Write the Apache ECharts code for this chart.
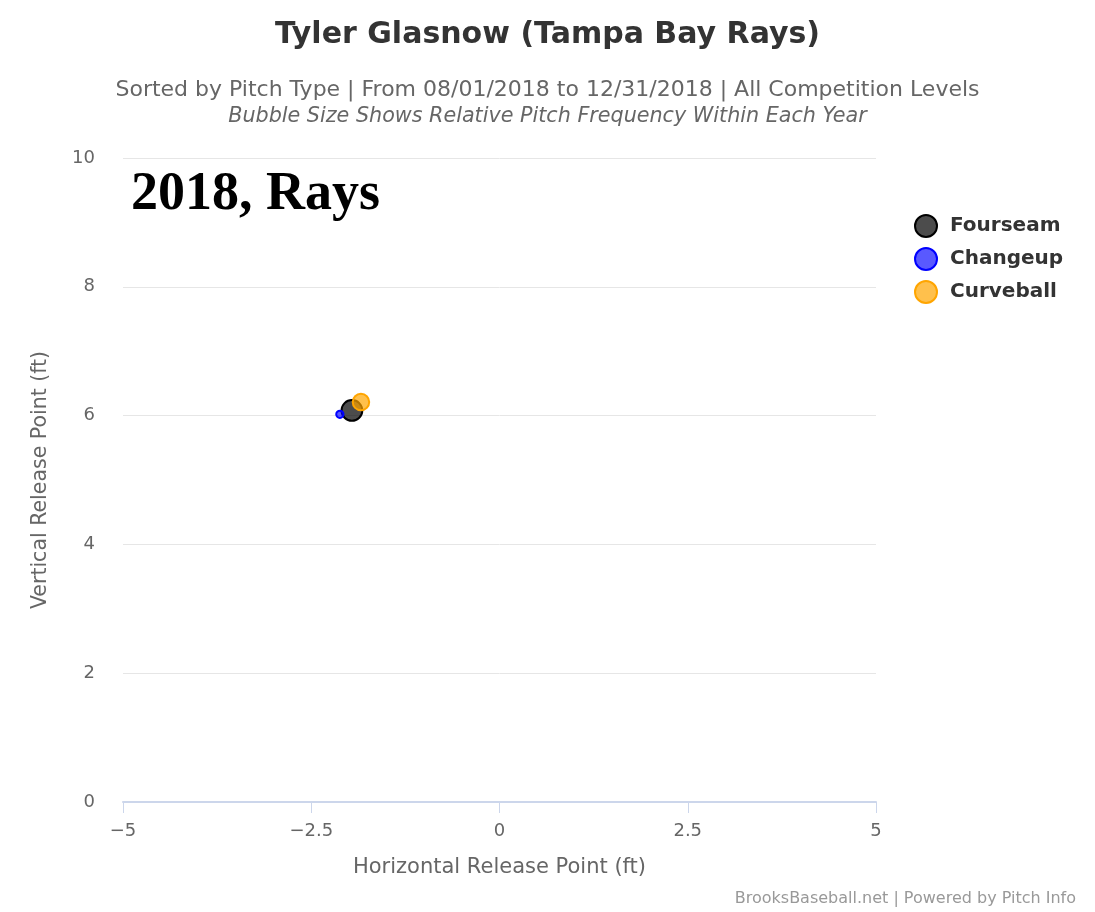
<!DOCTYPE html>
<html>
<head>
<meta charset="utf-8">
<script src="https://cdn.jsdelivr.net/npm/echarts@6/dist/echarts.min.js"></script>
<style>
  html, body { margin: 0; padding: 0; background: #fff; }
  #chart { width: 1095px; height: 912px; }
</style>
</head>
<body>
<div id="chart"></div>
<script>
// pitch types with release point (ft) and share of pitches
var pitchTypes = ['Fourseam', 'Changeup', 'Curveball'];
var releaseX = [-1.96, -2.12, -1.84];
var releaseZ = [6.08, 6.02, 6.21];
var pitchFreq = [0.57, 0.07, 0.36];

var fills = ['rgba(0,0,0,0.7)', 'rgba(0,0,255,0.65)', 'rgba(255,165,0,0.7)'];
var borders = ['#000000', '#0000ff', '#ffa500'];

var font = '"DejaVu Sans", "Lucida Grande", sans-serif';

var series = pitchTypes.map(function (name, i) {
    return {
        name: name,
        type: 'scatter',
        data: [[releaseX[i], releaseZ[i], pitchFreq[i]]],
        symbolSize: function (v) { return 27.5 * Math.sqrt(v[2]); },
        itemStyle: { color: fills[i], borderColor: borders[i], borderWidth: 2, opacity: 1 },
        emphasis: { disabled: true }
    };
});

var chart = echarts.init(document.getElementById('chart'));
chart.setOption({
    backgroundColor: '#ffffff',
    animation: false,
    title: [{
        text: 'Tyler Glasnow (Tampa Bay Rays)',
        left: 'center', top: 15,
        textStyle: { fontFamily: font, fontSize: 30, fontWeight: 'bold', color: '#333333' }
    }, {
        text: 'Sorted by Pitch Type | From 08/01/2018 to 12/31/2018 | All Competition Levels',
        left: 'center', top: 74,
        textStyle: { fontFamily: font, fontSize: 22, fontWeight: 'normal', color: '#666666' }
    }, {
        text: 'Bubble Size Shows Relative Pitch Frequency Within Each Year',
        left: 'center', top: 101,
        textStyle: { fontFamily: font, fontSize: 20.7, fontWeight: 'normal', fontStyle: 'italic', color: '#666666' }
    }],
    legend: {
        orient: 'vertical',
        left: 909, top: 209,
        itemWidth: 22, itemHeight: 22, itemGap: 9,
        icon: 'circle',
        selectedMode: false,
        data: pitchTypes,
        textStyle: { fontFamily: font, fontSize: 20, fontWeight: 'bold', color: '#333333', padding: [0, 0, 0, 8] }
    },
    grid: { left: 123, right: 219, top: 158, bottom: 110 },
    xAxis: {
        type: 'value',
        min: -5, max: 5, interval: 2.5,
        name: 'Horizontal Release Point (ft)',
        nameLocation: 'middle', nameGap: 55,
        nameTextStyle: { fontFamily: font, fontSize: 21, color: '#666666' },
        axisLine: { show: true, onZero: false, lineStyle: { color: '#ccd6eb', width: 2 } },
        axisTick: { show: true, length: 11, lineStyle: { color: '#ccd6eb', width: 1 } },
        axisLabel: {
            margin: 20, fontFamily: font, fontSize: 18, color: '#666666',
            formatter: function (v) { return String(v).replace('-', '\u2212'); }
        },
        splitLine: { show: false }
    },
    yAxis: {
        type: 'value',
        min: 0, max: 10, interval: 2,
        name: 'Vertical Release Point (ft)',
        nameLocation: 'middle', nameGap: 72,
        nameTextStyle: { fontFamily: font, fontSize: 20.5, color: '#666666' },
        axisLine: { show: false },
        axisTick: { show: false },
        axisLabel: { margin: 28, fontFamily: font, fontSize: 18, color: '#666666', lineHeight: 26, verticalAlign: 'middle', padding: [6, 0, 0, 0] },
        splitLine: { lineStyle: { color: '#e6e6e6', width: 1 } }
    },
    graphic: [{
        type: 'text',
        left: 131, top: 168,
        style: {
            text: '2018, Rays',
            font: 'bold 54px "Liberation Serif", "Times New Roman", serif',
            fill: '#000000'
        }
    }, {
        type: 'text',
        right: 19, top: 891,
        style: {
            text: 'BrooksBaseball.net | Powered by Pitch Info',
            font: '16px ' + font,
            fill: '#999999'
        }
    }],
    series: series
});
</script>
</body>
</html>
